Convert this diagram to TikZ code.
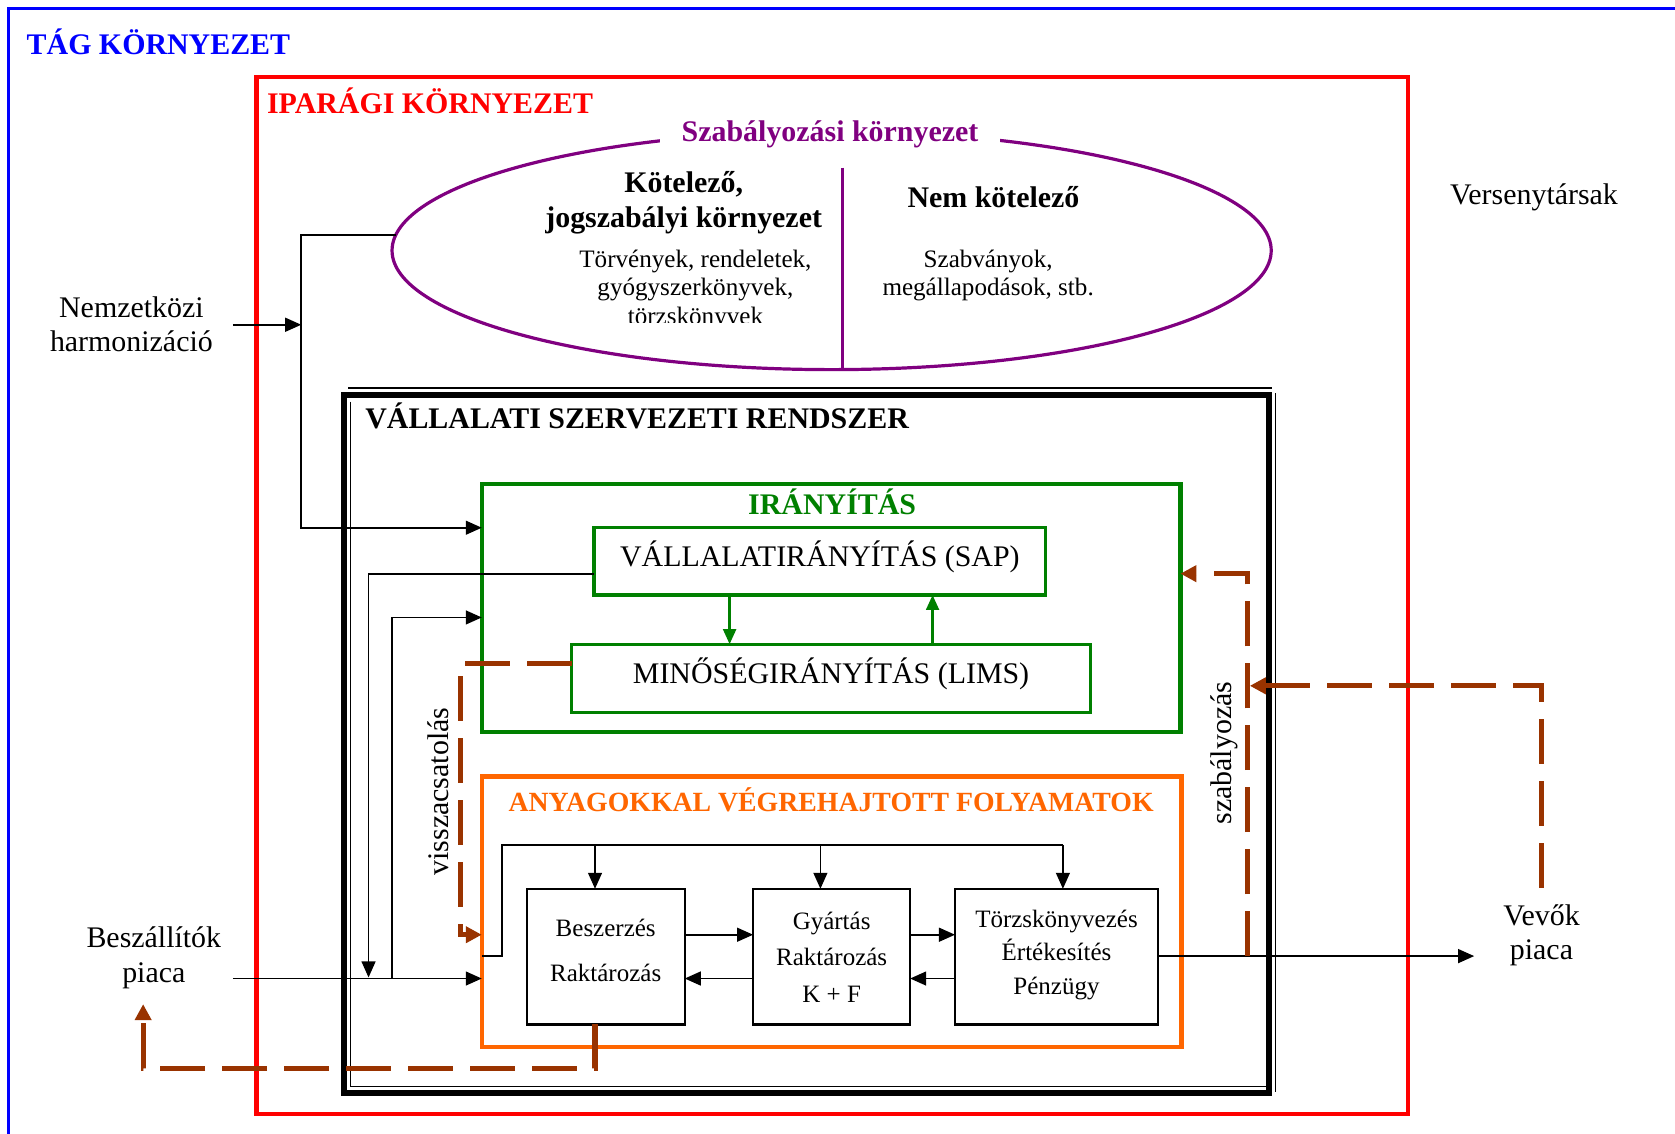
\documentclass[tikz,border=0pt]{standalone}
\usepackage{fontspec}
\setmainfont{Liberation Serif}
\usetikzlibrary{arrows.meta,shapes.geometric}
\definecolor{tblue}{RGB}{0,0,255}
\definecolor{tred}{RGB}{255,0,0}
\definecolor{tpurple}{RGB}{128,0,128}
\definecolor{tgreen}{RGB}{0,128,0}
\definecolor{torange}{RGB}{255,102,0}
\definecolor{tbrown}{RGB}{153,51,0}
\begin{document}
\begin{tikzpicture}[x=0.5pt,y=-0.5pt,
  every node/.style={inner sep=0pt, outer sep=0pt},
  ttl/.style={font=\fontsize{14}{16.5}\selectfont\bfseries},
  txt/.style={font=\fontsize{14}{16.5}\selectfont},
  sm/.style={font=\fontsize{11.75}{13.5}\selectfont},
  pf/.style={font=\fontsize{11.7}{14}\selectfont},
  boxg/.style={draw=tgreen, line width=1.5pt},
  pbox/.style={draw, line width=1pt, minimum height=63.5pt},
  arr/.style={line width=0.8pt, -{Triangle[length=7.5pt,width=6.5pt]}},
  thin/.style={line width=0.8pt},
  garr/.style={draw=tgreen, line width=1.2pt, -{Triangle[length=7pt,width=6pt]}},
  barr/.style={draw=tbrown, line width=2.4pt, dash pattern=on 21pt off 8pt, -{Triangle[length=7.5pt,width=7.5pt]}}
]
\useasboundingbox (0,0) rectangle (1568,1061);
\fill[white] (0,0) rectangle (1568,1061);

% wide environment
\draw[tblue, line width=1.6pt] (8,8) rectangle (1600,1100);
\node[ttl, text=tblue, anchor=base west] (tag) at (25,51) {TÁG KÖRNYEZET};

% industry environment
\draw[tred, line width=2pt] (240,72) rectangle (1318,1043);
\node[ttl, text=tred, anchor=base west] (ipar) at (250,106) {IPARÁGI KÖRNYEZET};

% regulatory ellipse
\node[ellipse, draw=tpurple, line width=1.5pt, minimum width=411.5pt, minimum height=111.5pt] (reg) at (778.5,234.5) {};
\node[ttl, text=tpurple, fill=white, inner xsep=10pt, inner ysep=3pt, anchor=base] (regt) at (777,132) {Szabályozási környezet};
\draw[tpurple, line width=1.5pt] (789,157) -- (789,346);
\node[ttl, anchor=base] (kot1) at (640,180) {Kötelező,};
\node[ttl, anchor=base] (kot2) at (640,213) {jogszabályi környezet};
\node[sm, anchor=base] (tv1) at (651,250) {Törvények, rendeletek,};
\node[sm, anchor=base] (tv2) at (651,277) {gyógyszerkönyvek,};
\begin{scope}
\clip (540,280) rectangle (780,302);
\node[sm, anchor=base] (tv3) at (651,304) {törzskönyvek};
\end{scope}
\node[ttl, anchor=base] (nk) at (930,194) {Nem kötelező};
\node[sm, anchor=base] (sz1) at (925,250) {Szabványok,};
\node[sm, anchor=base] (sz2) at (925,277) {megállapodások, stb.};

\node[txt, anchor=base] (vers) at (1436,191) {Versenytársak};
\node[txt, anchor=base] (nemz1) at (123,297) {Nemzetközi};
\node[txt, anchor=base] (nemz2) at (123,329) {harmonizáció};
\node[txt, anchor=base] (besz1) at (144,887) {Beszállítók};
\node[txt, anchor=base] (besz2) at (144,920) {piaca};
\node[txt, anchor=base] (vev1) at (1443,866) {Vevők};
\node[txt, anchor=base] (vev2) at (1443,898) {piaca};

% company system frame
\node[draw, line width=3pt, minimum width=433pt, minimum height=326.5pt] (sys) at (755,696.5) {};
\draw[line width=0.8pt] (326,363) -- (1191,363);
\draw[line width=0.8pt] (1194,368) -- (1194,1022);
\draw[line width=0.8pt] (328,376) -- (328,1017) -- (1186,1017);
\node[ttl, anchor=base west] (syst) at (342,401) {VÁLLALATI SZERVEZETI RENDSZER};

% management
\node[draw=tgreen, line width=2pt, minimum width=327pt, minimum height=116pt] (irany) at (778,569) {};
\node[ttl, text=tgreen, anchor=base] (iranyt) at (779,482) {IRÁNYÍTÁS};
\node[boxg, minimum width=211.5pt, minimum height=31.5pt] (sap) at (767.5,525.5) {};
\node[txt, anchor=base] (sapt) at (767.5,530) {VÁLLALATIRÁNYÍTÁS (SAP)};
\node[boxg, minimum width=243pt, minimum height=32pt] (lims) at (778,635) {};
\node[txt, anchor=base] (limst) at (778,640) {MINŐSÉGIRÁNYÍTÁS (LIMS)};
\draw[garr] (sap.south -| 683,0) -- (lims.north -| 683,0);
\draw[garr] (lims.north -| 873,0) -- (sap.south -| 873,0);

% material processes
\node[draw=torange, line width=2pt, minimum width=327.5pt, minimum height=126.5pt] (proc) at (778.5,853.5) {};
\node[font=\fontsize{13}{15}\selectfont\bfseries, text=torange, anchor=base] (proct) at (778,760) {ANYAGOKKAL VÉGREHAJTOTT FOLYAMATOK};
\node[pbox, minimum width=74pt] (besz) at (567,895.5) {};
\node[pbox, minimum width=73.5pt] (gyar) at (778.5,895.5) {};
\node[pbox, minimum width=95pt] (torzs) at (989,895.5) {};
\node[pf, anchor=base] (bt1) at (567,877) {Beszerzés};
\node[pf, anchor=base] (bt2) at (567,919) {Raktározás};
\node[pf, anchor=base] (gt1) at (778.5,870) {Gyártás};
\node[pf, anchor=base] (gt2) at (778.5,904) {Raktározás};
\node[pf, anchor=base] (gt3) at (778.5,938) {K + F};
\node[pf, anchor=base] (tt1) at (989,868) {Törzskönyvezés};
\node[pf, anchor=base] (tt2) at (989,899) {Értékesítés};
\node[pf, anchor=base] (tt3) at (989,931) {Pénzügy};

% black connectors
\coordinate (nhs) at (218,304);
\coordinate (nhj) at (282,304);
\draw[arr] (nhs) -- (nhj);
\draw[arr] (reg.178) -| (282,494) -- (irany.west |- 0,494);
\draw[arr] (sap.west |- 0,537) -| (345,915);
\coordinate (bss) at (218,916);
\coordinate (bsj) at (367,916);
\draw[arr] (bsj) |- (irany.west |- 0,578);
\draw[arr] (bss) -- (proc.west |- bss);
\draw[thin] (proc.west |- 0,895) -| (470,791) -- (995,791);
\draw[arr] (557,791) -- (besz.north -| 557,0);
\draw[arr] (768,791) -- (gyar.north -| 768,0);
\draw[arr] (995,791) -- (torzs.north -| 995,0);
\draw[arr] (besz.east |- 0,875) -- (gyar.west |- 0,875);
\draw[arr] (gyar.west |- 0,916) -- (besz.east |- 0,916);
\draw[arr] (gyar.east |- 0,875) -- (torzs.west |- 0,875);
\draw[arr] (torzs.west |- 0,916) -- (gyar.east |- 0,916);
\coordinate (vin) at (1380,895);
\draw[arr] (torzs.east |- vin) -- (vin);

% brown feedback / regulation
\coordinate (szs) at (1168,895);
\coordinate (szj) at (1170,642);
\coordinate (vvs) at (1443,831);
\coordinate (bst) at (134,940);
\draw[barr] (lims.west |- 0,621) -| (431,875) -- (proc.west |- 0,875);
\draw[barr] (szs) |- (irany.east |- 0,537);
\draw[barr] (vvs) |- (szj);
\draw[barr] (besz.south -| 557,0) |- (134,1000) -- (bst);
\node[txt, rotate=90] (vissza) at (410,741) {visszacsatolás};
\node[txt, rotate=90] (szab) at (1146,705) {szabályozás};
\end{tikzpicture}
\end{document}
